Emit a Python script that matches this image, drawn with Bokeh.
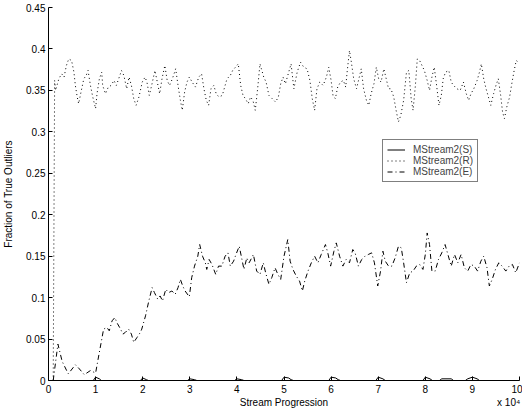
from bokeh.plotting import figure
from bokeh.models import FixedTicker, Legend, LegendItem, Range1d, LinearAxis
from bokeh.embed import file_html
from bokeh.resources import INLINE

# ---------------- data ----------------
x_ticks = [0, 1, 2, 3, 4, 5, 6, 7, 8, 9, 10]
x_tick_labels = ["0", "1", "2", "3", "4", "5", "6", "7", "8", "9", "10"]
y_ticks = [0, 0.05, 0.1, 0.15, 0.2, 0.25, 0.3, 0.35, 0.4, 0.45]
y_tick_labels = ["0", "0.05", "0.1", "0.15", "0.2", "0.25", "0.3", "0.35", "0.4", "0.45"]

series_names = ["MStream2(S)", "MStream2(R)", "MStream2(E)"]

s_x = [0.1, 0.95, 1.0, 1.08, 1.12, 1.95, 2.0, 2.08, 2.12, 2.95, 3.0, 3.1, 3.15,
       3.95, 4.0, 4.1, 4.15, 4.95, 5.0, 5.1, 5.15, 5.2, 5.95, 6.0, 6.1, 6.15, 6.2,
       6.95, 7.0, 7.1, 7.15, 7.95, 8.0, 8.1, 8.15, 8.3, 8.35, 8.55, 8.6, 8.85, 8.9,
       9.0, 9.1, 9.15, 10.0]
s_y = [0.0, 0.0, 0.004, 0.002, 0.0, 0.0, 0.003, 0.001, 0.0, 0.0, 0.002, 0.001, 0.0,
       0.0, 0.002, 0.001, 0.0, 0.0, 0.004, 0.003, 0.001, 0.0, 0.0, 0.004, 0.003, 0.001, 0.0,
       0.0, 0.004, 0.002, 0.0, 0.0, 0.004, 0.002, 0.0, 0.0, 0.002, 0.002, 0.0, 0.0, 0.002,
       0.004, 0.002, 0.0, 0.0]

r_x = [0.1, 0.13, 0.15, 0.22, 0.28, 0.33, 0.38, 0.43, 0.49, 0.54, 0.57, 0.61, 0.64, 0.69,
       0.75, 0.80, 0.84, 0.89, 0.94, 1.0, 1.03, 1.08, 1.13, 1.15, 1.21, 1.27, 1.33, 1.39,
       1.44, 1.49, 1.55, 1.60, 1.66, 1.71, 1.76, 1.81, 1.86, 1.92, 1.99, 2.05, 2.09, 2.14,
       2.19, 2.26, 2.31, 2.36, 2.41, 2.47, 2.52, 2.57, 2.63, 2.70, 2.75, 2.80, 2.84, 2.89,
       2.94, 2.99, 3.05, 3.12, 3.19, 3.25, 3.30, 3.35, 3.40, 3.45, 3.51, 3.56, 3.62, 3.69,
       3.74, 3.79, 3.86, 3.91, 3.97, 4.03, 4.08, 4.13, 4.18, 4.24, 4.29, 4.34, 4.39, 4.44,
       4.49, 4.52, 4.57, 4.62, 4.68, 4.75, 4.82, 4.88, 4.93, 4.98, 5.03, 5.10, 5.15, 5.21,
       5.28, 5.35, 5.42, 5.49, 5.55, 5.60, 5.65, 5.70, 5.76, 5.83, 5.90, 5.95, 6.00, 6.04,
       6.09, 6.14, 6.20, 6.26, 6.31, 6.34, 6.39, 6.43, 6.48, 6.54, 6.59, 6.64, 6.69, 6.75,
       6.80, 6.85, 6.91, 6.96, 7.01, 7.06, 7.12, 7.17, 7.22, 7.27, 7.33, 7.38, 7.43, 7.48,
       7.54, 7.60, 7.65, 7.70, 7.74, 7.79, 7.83, 7.88, 7.93, 7.98, 8.04, 8.09, 8.14, 8.19,
       8.24, 8.29, 8.34, 8.38, 8.43, 8.50, 8.55, 8.60, 8.67, 8.74, 8.81, 8.87, 8.92, 8.97,
       9.03, 9.10, 9.15, 9.19, 9.24, 9.29, 9.34, 9.39, 9.45, 9.50, 9.55, 9.60, 9.64, 9.68,
       9.73, 9.79, 9.83, 9.88, 9.93, 9.98]
r_y = [0.0, 0.362, 0.350, 0.364, 0.370, 0.366, 0.380, 0.388, 0.386, 0.372, 0.356, 0.342, 0.334, 0.348,
       0.364, 0.368, 0.374, 0.356, 0.342, 0.328, 0.346, 0.364, 0.372, 0.356, 0.346, 0.354, 0.356, 0.362,
       0.356, 0.364, 0.374, 0.368, 0.352, 0.366, 0.356, 0.340, 0.332, 0.342, 0.360, 0.366, 0.360, 0.344,
       0.356, 0.374, 0.360, 0.346, 0.364, 0.380, 0.362, 0.356, 0.364, 0.376, 0.356, 0.338, 0.326, 0.348,
       0.360, 0.366, 0.360, 0.354, 0.366, 0.370, 0.352, 0.338, 0.332, 0.352, 0.356, 0.346, 0.342, 0.344,
       0.354, 0.364, 0.368, 0.374, 0.378, 0.382, 0.356, 0.344, 0.340, 0.334, 0.342, 0.338, 0.326, 0.352,
       0.382, 0.376, 0.366, 0.360, 0.344, 0.340, 0.336, 0.342, 0.358, 0.366, 0.358, 0.372, 0.382, 0.352,
       0.372, 0.384, 0.378, 0.376, 0.362, 0.340, 0.326, 0.352, 0.360, 0.356, 0.366, 0.378, 0.362, 0.344,
       0.340, 0.354, 0.360, 0.362, 0.354, 0.372, 0.398, 0.384, 0.364, 0.352, 0.364, 0.376, 0.352, 0.338,
       0.332, 0.346, 0.358, 0.378, 0.364, 0.360, 0.376, 0.364, 0.352, 0.352, 0.342, 0.326, 0.312, 0.320,
       0.338, 0.372, 0.374, 0.340, 0.326, 0.356, 0.388, 0.386, 0.380, 0.374, 0.362, 0.350, 0.366, 0.378,
       0.356, 0.332, 0.344, 0.364, 0.372, 0.374, 0.360, 0.356, 0.352, 0.350, 0.360, 0.346, 0.338, 0.346,
       0.352, 0.362, 0.372, 0.382, 0.364, 0.352, 0.342, 0.332, 0.346, 0.356, 0.364, 0.344, 0.324, 0.316,
       0.330, 0.342, 0.356, 0.372, 0.386, 0.384]

e_x = [0.1, 0.2, 0.29, 0.42, 0.57, 0.64, 0.76, 0.89, 1.0, 1.07, 1.17, 1.24, 1.29, 1.35, 1.41,
       1.45, 1.53, 1.58, 1.63, 1.70, 1.76, 1.81, 1.88, 1.95, 1.98, 2.06, 2.13, 2.20, 2.25, 2.32,
       2.37, 2.42, 2.49, 2.55, 2.62, 2.69, 2.75, 2.80, 2.85, 2.90, 2.99, 3.04, 3.10, 3.17, 3.21,
       3.27, 3.33, 3.36, 3.41, 3.47, 3.55, 3.61, 3.68, 3.75, 3.81, 3.86, 3.93, 3.98, 4.05, 4.10,
       4.15, 4.21, 4.26, 4.35, 4.42, 4.49, 4.56, 4.61, 4.68, 4.74, 4.81, 4.87, 4.93, 5.0, 5.08,
       5.13, 5.19, 5.26, 5.33, 5.39, 5.44, 5.51, 5.58, 5.65, 5.72, 5.79, 5.88, 5.93, 5.99, 6.06,
       6.11, 6.18, 6.25, 6.32, 6.39, 6.46, 6.51, 6.58, 6.65, 6.72, 6.79, 6.86, 6.92, 6.99, 7.05,
       7.10, 7.15, 7.22, 7.29, 7.36, 7.43, 7.49, 7.54, 7.60, 7.67, 7.74, 7.81, 7.88, 7.95, 8.00,
       8.04, 8.09, 8.14, 8.21, 8.28, 8.35, 8.42, 8.47, 8.55, 8.62, 8.69, 8.76, 8.83, 8.90, 8.97,
       9.04, 9.11, 9.18, 9.24, 9.31, 9.36, 9.42, 9.49, 9.56, 9.63, 9.71, 9.78, 9.85, 9.92, 10.0]
e_y = [0.0, 0.044, 0.023, 0.008, 0.019, 0.015, 0.007, 0.012, 0.009, 0.031, 0.062, 0.064, 0.060, 0.072, 0.076,
       0.070, 0.062, 0.056, 0.058, 0.062, 0.056, 0.046, 0.052, 0.058, 0.062, 0.078, 0.096, 0.112, 0.106, 0.098,
       0.102, 0.096, 0.110, 0.106, 0.108, 0.104, 0.112, 0.122, 0.114, 0.108, 0.101, 0.124, 0.138, 0.150, 0.164,
       0.150, 0.142, 0.134, 0.146, 0.140, 0.128, 0.138, 0.138, 0.150, 0.154, 0.138, 0.144, 0.152, 0.162, 0.148,
       0.134, 0.148, 0.142, 0.152, 0.132, 0.128, 0.142, 0.130, 0.116, 0.124, 0.136, 0.128, 0.122, 0.150, 0.170,
       0.144, 0.134, 0.126, 0.120, 0.108, 0.120, 0.132, 0.142, 0.150, 0.142, 0.152, 0.164, 0.154, 0.138, 0.156,
       0.166, 0.150, 0.138, 0.146, 0.142, 0.158, 0.154, 0.138, 0.146, 0.150, 0.152, 0.154, 0.142, 0.114, 0.132,
       0.156, 0.144, 0.138, 0.138, 0.148, 0.162, 0.160, 0.142, 0.118, 0.130, 0.132, 0.138, 0.140, 0.134, 0.152,
       0.178, 0.164, 0.132, 0.132, 0.146, 0.154, 0.164, 0.154, 0.138, 0.152, 0.142, 0.152, 0.136, 0.132, 0.140,
       0.138, 0.132, 0.144, 0.150, 0.136, 0.114, 0.122, 0.134, 0.142, 0.138, 0.132, 0.138, 0.140, 0.130, 0.142]

x_label = "Stream Progression"
y_label = "Fraction of True Outliers"
x_multiplier = "x 10\u2074"
# positions (in x data units) of the two texts written under the tick labels
x_label_pos = 5.0
x_multiplier_pos = 9.77

FONT = "Liberation Sans"

# ---------------- figure ----------------
p = figure(width=522, height=417, output_backend="svg", toolbar_location=None,
           x_range=Range1d(0, 10), y_range=Range1d(0, 0.45),
           min_border_left=48, min_border_right=3, min_border_top=7, min_border_bottom=37)
p.background_fill_color = "white"
p.border_fill_color = "white"
p.outline_line_color = None
p.xgrid.visible = False
p.ygrid.visible = False

for ax in (p.xaxis[0], p.yaxis[0]):
    ax.axis_line_color = "black"
    ax.axis_line_width = 1
    ax.major_tick_line_color = "black"
    ax.major_tick_in = 4
    ax.major_tick_out = 0
    ax.minor_tick_line_color = None
    ax.major_label_text_font = FONT
    ax.major_label_text_font_size = "10px"
    ax.major_label_text_color = "black"

p.xaxis.ticker = FixedTicker(ticks=x_ticks)
p.xaxis.major_label_overrides = {t: l for t, l in zip(x_ticks, x_tick_labels)}
p.xaxis.major_label_standoff = 4

p.yaxis.ticker = FixedTicker(ticks=y_ticks)
p.yaxis.major_label_overrides = {t: l for t, l in zip(y_ticks, y_tick_labels)}
p.yaxis.major_label_standoff = 3
p.yaxis.axis_label = y_label
p.yaxis.axis_label_text_font = FONT
p.yaxis.axis_label_text_font_size = "10px"
p.yaxis.axis_label_text_font_style = "normal"
p.yaxis.axis_label_text_color = "black"
p.yaxis.axis_label_standoff = 9

# second, bare axis below: carries the axis title and the x 10^4 multiplier on one row
title_axis = LinearAxis(ticker=FixedTicker(ticks=[x_label_pos, x_multiplier_pos]),
                        major_label_overrides={x_label_pos: x_label, x_multiplier_pos: x_multiplier},
                        axis_line_color=None, major_tick_line_color=None, minor_tick_line_color=None,
                        major_tick_in=0, major_tick_out=0, major_label_standoff=1,
                        major_label_text_font=FONT, major_label_text_font_size="10px",
                        major_label_text_color="black")
p.add_layout(title_axis, "below")

r_e = p.line(e_x, e_y, line_color="black", line_width=1, line_dash="5 3 1 3")
r_r = p.line(r_x, r_y, line_color="black", line_width=1, line_dash="1 3")
r_s = p.line(s_x, s_y, line_color="black", line_width=1)

legend = Legend(items=[LegendItem(label=series_names[0], renderers=[r_s]),
                       LegendItem(label=series_names[1], renderers=[r_r]),
                       LegendItem(label=series_names[2], renderers=[r_e])],
                location=(334, 198), margin=0, padding=4, spacing=0,
                label_text_font=FONT, label_text_font_size="10px",
                label_height=11, glyph_height=11, glyph_width=18, label_standoff=8,
                border_line_color="black", border_line_width=1,
                background_fill_color="white", background_fill_alpha=1)
p.add_layout(legend, "center")

open("out.html", "w").write(file_html(p, INLINE))
